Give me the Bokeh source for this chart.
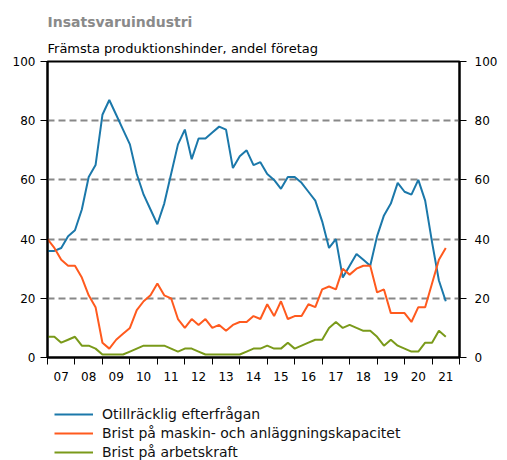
from bokeh.plotting import figure
from bokeh.layouts import column
from bokeh.models import (Range1d, LinearAxis, FixedTicker, Legend, LegendItem, Title, Grid)
from bokeh.embed import file_html
from bokeh.resources import INLINE

title_text = "Insatsvaruindustri"
subtitle_text = "Främsta produktionshinder, andel företag"

start_year = 2007
year_labels = ["07", "08", "09", "10", "11", "12", "13", "14", "15", "16", "17", "18", "19", "20", "21"]
y_ticks = [0, 20, 40, 60, 80, 100]
grid_ticks = [20, 40, 60, 80]

names = ["Otillräcklig efterfrågan",
         "Brist på maskin- och anläggningskapacitet",
         "Brist på arbetskraft"]

demand = [36, 36, 37, 41, 43, 50, 61, 65, 82, 87, 82, 77, 72, 62, 55, 50,
          45, 52, 62, 72, 77, 67, 74, 74, 76, 78, 77, 64, 68, 70, 65, 66,
          62, 60, 57, 61, 61, 59, 56, 53, 46, 37, 40, 27, 31, 35, 33, 31,
          41, 48, 52, 59, 56, 55, 60, 53, 39, 26, 19]
capacity = [40, 37, 33, 31, 31, 27, 21, 17, 5, 3, 6, 8, 10, 16, 19, 21,
            25, 21, 20, 13, 10, 13, 11, 13, 10, 11, 9, 11, 12, 12, 14, 13,
            18, 14, 19, 13, 14, 14, 18, 17, 23, 24, 23, 30, 28, 30, 31, 31,
            22, 23, 15, 15, 15, 12, 17, 17, 25, 33, 37]
labour = [7, 7, 5, 6, 7, 4, 4, 3, 1, 1, 1, 1, 2, 3, 4, 4,
          4, 4, 3, 2, 3, 3, 2, 1, 1, 1, 1, 1, 1, 2, 3, 3,
          4, 3, 3, 5, 3, 4, 5, 6, 6, 10, 12, 10, 11, 10, 9, 9,
          7, 4, 6, 4, 3, 2, 2, 5, 5, 9, 7]

colors = ["#1b78aa", "#ff5a1e", "#7a9a1a"]

x = [start_year + i * 0.25 for i in range(len(demand))]
n_years = len(year_labels)
boundaries = [start_year + k for k in range(n_years + 1)]
mids = [start_year + k + 0.5 for k in range(n_years)]

FONT = "DejaVu Sans"
W = 500

p = figure(width=W, height=392, output_backend="svg", toolbar_location=None,
           x_range=Range1d(start_year, start_year + n_years), y_range=Range1d(0, 100),
           min_border_left=47, min_border_right=39, min_border_top=61, min_border_bottom=35,
           x_axis_type=None, y_axis_type=None)
p.background_fill_color = "white"
p.border_fill_color = "white"
p.outline_line_color = "black"
p.outline_line_width = 2

p.add_layout(Grid(dimension=1, ticker=FixedTicker(ticks=grid_ticks),
                  grid_line_color="#888888", grid_line_width=2, grid_line_dash="7 4"))

# x axis: boundary ticks as minor ticks, labels at mid-year
xaxis = LinearAxis(ticker=FixedTicker(ticks=mids, minor_ticks=boundaries))
xaxis.major_label_overrides = {m: lab for m, lab in zip(mids, year_labels)}
xaxis.major_tick_out = 0
xaxis.major_tick_in = 0
xaxis.minor_tick_out = 7
xaxis.minor_tick_in = 0
xaxis.minor_tick_line_color = "black"
xaxis.minor_tick_line_width = 1
xaxis.axis_line_color = "black"
xaxis.axis_line_width = 2
xaxis.major_label_standoff = 7
xaxis.major_label_text_font = FONT
xaxis.major_label_text_font_size = "12px"
xaxis.major_label_text_color = "black"
p.add_layout(xaxis, "below")

for side, standoff in (("left", 5), ("right", 8)):
    ax = LinearAxis(ticker=FixedTicker(ticks=y_ticks, minor_ticks=[]))
    ax.major_tick_out = 7
    ax.major_tick_in = 0
    ax.major_tick_line_color = "black"
    ax.axis_line_color = "black"
    ax.axis_line_width = 2
    ax.major_label_standoff = standoff
    ax.major_label_text_font = FONT
    ax.major_label_text_font_size = "12px"
    ax.major_label_text_color = "black"
    p.add_layout(ax, side)

renderers = []
for ys, c in zip([demand, capacity, labour], colors):
    r = p.line(x, ys, line_color=c, line_width=2)
    renderers.append(r)

sub = Title(text=subtitle_text, align="left", text_font=FONT, text_font_size="13px",
            text_font_style="normal", text_color="black", standoff=12)
main = Title(text=title_text, align="left", text_font=FONT, text_font_size="14px",
             text_font_style="bold", text_color="#8a8a8a", standoff=6)
p.add_layout(sub, "above")
p.add_layout(main, "above")

# legend panel below the chart (key lines have no visible points)
nan = float("nan")
q = figure(width=W, height=68, output_backend="svg", toolbar_location=None,
           x_range=Range1d(0, 1), y_range=Range1d(0, 1),
           min_border_left=0, min_border_right=0, min_border_top=0, min_border_bottom=0,
           x_axis_type=None, y_axis_type=None)
q.outline_line_color = None
q.background_fill_color = "white"
q.border_fill_color = "white"
keys = [q.line([0, 1], [nan, nan], line_color=c, line_width=2) for c in colors]
legend = Legend(items=[LegendItem(label=nm, renderers=[r]) for nm, r in zip(names, keys)],
                location=(7, 0), orientation="vertical",
                glyph_width=39, glyph_height=14, label_height=14, label_standoff=9,
                spacing=3, padding=0, margin=0,
                border_line_alpha=0, background_fill_alpha=0,
                label_text_font=FONT, label_text_font_size="14px", label_text_color="#111111")
q.add_layout(legend, "center")

layout = column(p, q, spacing=0)
open("out.html", "w").write(file_html(layout, INLINE))
